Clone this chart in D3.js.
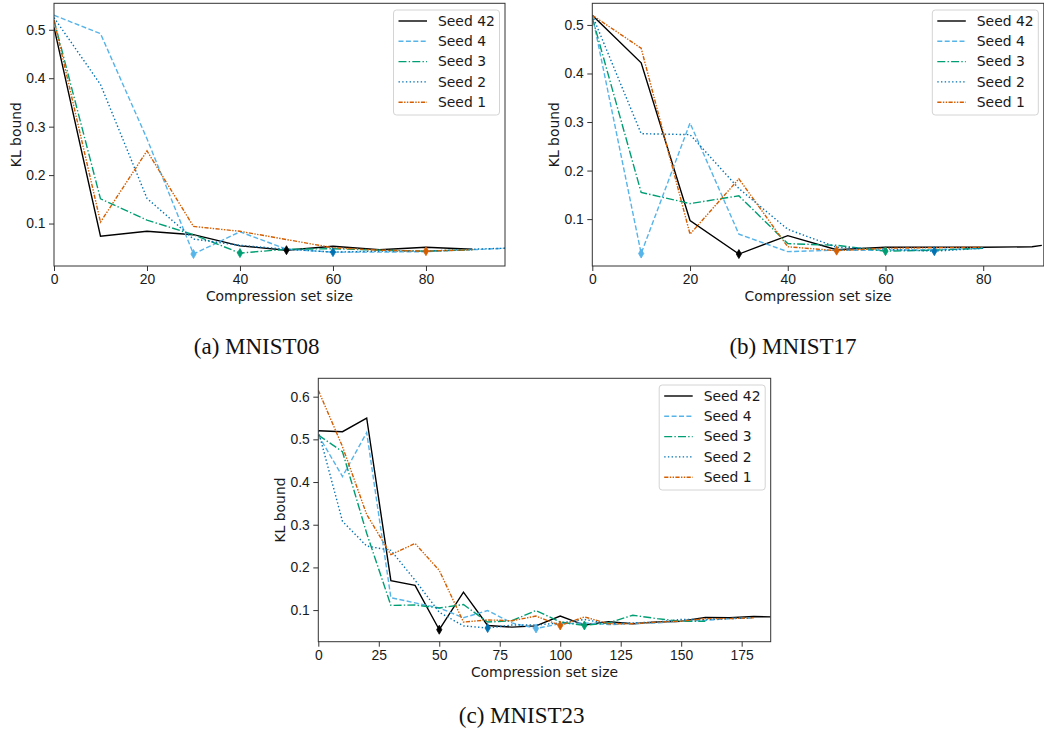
<!DOCTYPE html>
<html>
<head>
<meta charset="utf-8">
<script src="https://cdn.jsdelivr.net/npm/d3@7"></script>
<style>
  body { margin: 0; background: #fff; }
  svg { display: block; font-family: "DejaVu Sans", sans-serif; }
  .tick text { font-size: 13.9px; fill: #1a1a1a; }
  .tick line { stroke: #333; }
  .caption { font-family: "Liberation Serif", "Times New Roman", serif; font-size: 23px; fill: #111; }
</style>
</head>
<body>
<svg id="chart" width="1044" height="734"></svg>
<script>
const seedNames = ["Seed 42", "Seed 4", "Seed 3", "Seed 2", "Seed 1"];
const seedColors = ["#000000", "#56B4E9", "#009E73", "#0072B2", "#D55E00"];
const seedDashes = [null, "5,2.4", "8,2.2,1.4,2.2", "1.4,2.3", "4.2,1.4,1.4,1.4,1.4,1.4"];

// (a) MNIST08
const sizesA = [0, 10, 20, 30, 40, 50, 60, 70, 80, 90, 97];
const a42 = [0.505, 0.074, 0.084, 0.077, 0.054, 0.045, 0.053, 0.046, 0.051, 0.047];
const a4 = [0.53, 0.492, 0.275, 0.037, 0.083, 0.047, 0.041, 0.041, 0.042, 0.046, 0.049];
const a3 = [0.52, 0.151, 0.107, 0.077, 0.039, 0.047, 0.048, 0.045, 0.043, 0.046];
const a2 = [0.525, 0.387, 0.152, 0.068, 0.055, 0.047, 0.041, 0.043, 0.043, 0.047, 0.049];
const a1 = [0.52, 0.103, 0.25, 0.094, 0.084, 0.067, 0.05, 0.045, 0.043, 0.046];
const xTicksA = [0, 20, 40, 60, 80];
const yTicksA = [0.1, 0.2, 0.3, 0.4, 0.5];

// (b) MNIST17
const sizesB = [0, 10, 20, 30, 40, 50, 60, 70, 80, 90, 92];
const b42 = [0.52, 0.422, 0.097, 0.028, 0.066, 0.037, 0.042, 0.042, 0.042, 0.043, 0.046];
const b4 = [0.52, 0.029, 0.298, 0.069, 0.033, 0.036, 0.036, 0.037, 0.040];
const b3 = [0.515, 0.155, 0.132, 0.148, 0.0495, 0.046, 0.034, 0.036, 0.040];
const b2 = [0.52, 0.276, 0.274, 0.163, 0.079, 0.042, 0.038, 0.034, 0.040];
const b1 = [0.52, 0.452, 0.069, 0.183, 0.043, 0.035, 0.040, 0.041, 0.042];
const xTicksB = [0, 20, 40, 60, 80];
const yTicksB = [0.1, 0.2, 0.3, 0.4, 0.5];

// (c) MNIST23
const sizesC = [0, 10, 20, 30, 40, 50, 60, 70, 80, 90, 100, 110, 120, 130, 140, 150, 160, 170, 180, 187];
const c42 = [0.52, 0.518, 0.55, 0.169, 0.158, 0.054, 0.142, 0.064, 0.060, 0.063, 0.086, 0.065, 0.073, 0.068, 0.072, 0.074, 0.083, 0.082, 0.085, 0.084];
const c4 = [0.51, 0.413, 0.516, 0.129, 0.117, 0.105, 0.082, 0.099, 0.07, 0.057, 0.068, 0.07, 0.066, 0.068, 0.07, 0.074, 0.076, 0.08, 0.082];
const c3 = [0.51, 0.471, 0.28, 0.111, 0.112, 0.105, 0.113, 0.072, 0.075, 0.099, 0.072, 0.064, 0.07, 0.088, 0.08, 0.074, 0.074];
const c2 = [0.52, 0.308, 0.25, 0.24, 0.17, 0.095, 0.063, 0.058, 0.065, 0.065, 0.07, 0.078, 0.068, 0.07, 0.072, 0.078, 0.078, 0.08, 0.082];
const c1 = [0.615, 0.483, 0.324, 0.23, 0.256, 0.193, 0.072, 0.077, 0.075, 0.086, 0.064, 0.084, 0.068, 0.068, 0.072, 0.074, 0.08, 0.08, 0.082];
const xTicksC = [0, 25, 50, 75, 100, 125, 150, 175];
const yTicksC = [0.1, 0.2, 0.3, 0.4, 0.5, 0.6];

const panels = [
    { id: "a", sizes: sizesA, series: [a42, a4, a3, a2, a1], xMax: 97, xTicks: xTicksA, yTicks: yTicksA,
      left: 54, top: 3.3, width: 451, height: 262.7, caption: "(a) MNIST08", capX: 256.7, capY: 353.5 },
    { id: "b", sizes: sizesB, series: [b42, b4, b3, b2, b1], xMax: 92.4, xTicks: xTicksB, yTicks: yTicksB,
      left: 592.3, top: 3.3, width: 451.5, height: 262.7, caption: "(b) MNIST17", capX: 793, capY: 353.5 },
    { id: "c", sizes: sizesC, series: [c42, c4, c3, c2, c1], xMax: 187, xTicks: xTicksC, yTicks: yTicksC,
      left: 318.3, top: 378.3, width: 452.4, height: 263.4, caption: "(c) MNIST23", capX: 521.7, capY: 723 }
];

const svg = d3.select("#chart");

function drawPanel(p) {
    const all = p.series.flat();
    const lo = d3.min(all), hi = d3.max(all), pad = (hi - lo) * 0.05;

    const x = d3.scaleLinear().domain([0, p.xMax]).range([p.left, p.left + p.width]);
    const y = d3.scaleLinear().domain([lo - pad, hi + pad]).range([p.top + p.height, p.top]);

    svg.append("clipPath").attr("id", `clip-${p.id}`)
        .append("rect")
        .attr("x", p.left).attr("y", p.top)
        .attr("width", p.width).attr("height", p.height);

    const plot = svg.append("g").attr("clip-path", `url(#clip-${p.id})`);

    const line = d3.line()
        .x((d, i) => x(p.sizes[i]))
        .y(d => y(d));

    p.series.forEach((vals, k) => {
        plot.append("path")
            .datum(vals)
            .attr("d", line)
            .attr("fill", "none")
            .attr("stroke", seedColors[k])
            .attr("stroke-width", 1.4)
            .attr("stroke-dasharray", seedDashes[k])
            .attr("stroke-linejoin", "miter");
    });

    // thin diamond at each seed's minimum
    p.series.forEach((vals, k) => {
        const i = d3.minIndex(vals);
        const cx = x(p.sizes[i]), cy = y(vals[i]);
        plot.append("path")
            .attr("d", `M${cx},${cy - 4.5}L${cx + 2.6},${cy}L${cx},${cy + 4.5}L${cx - 2.6},${cy}Z`)
            .attr("fill", seedColors[k])
            .attr("stroke", seedColors[k])
            .attr("stroke-width", 0.8);
    });

    svg.append("g")
        .attr("transform", `translate(0,${p.top + p.height})`)
        .call(d3.axisBottom(x).tickValues(p.xTicks).tickFormat(d3.format("d"))
            .tickSize(5).tickSizeOuter(0).tickPadding(3))
        .call(g => g.select(".domain").remove());

    svg.append("g")
        .attr("transform", `translate(${p.left},0)`)
        .call(d3.axisLeft(y).tickValues(p.yTicks).tickFormat(d3.format(".1f"))
            .tickSize(5).tickSizeOuter(0).tickPadding(3.5))
        .call(g => g.select(".domain").remove());

    svg.append("rect")
        .attr("x", p.left).attr("y", p.top)
        .attr("width", p.width).attr("height", p.height)
        .attr("fill", "none")
        .attr("stroke", "#333")
        .attr("stroke-width", 1);

    svg.append("text")
        .attr("x", p.left + p.width / 2)
        .attr("y", p.top + p.height + 35)
        .attr("text-anchor", "middle")
        .attr("font-size", 13.9)
        .attr("fill", "#1a1a1a")
        .text("Compression set size");

    svg.append("text")
        .attr("transform", `translate(${p.left - 33.5},${p.top + p.height / 2}) rotate(-90)`)
        .attr("text-anchor", "middle")
        .attr("font-size", 13.9)
        .attr("fill", "#1a1a1a")
        .text("KL bound");

    drawLegend(p);

    svg.append("text")
        .attr("class", "caption")
        .attr("x", p.capX)
        .attr("y", p.capY)
        .attr("text-anchor", "middle")
        .text(p.caption);
}

function drawLegend(p) {
    const w = 106, h = 105;
    const lx = Math.min(p.left + p.width, 1044) - 5.5 - w;
    const ly = p.top + 6.7;
    const g = svg.append("g").attr("transform", `translate(${lx},${ly})`);

    g.append("rect")
        .attr("width", w).attr("height", h)
        .attr("rx", 3)
        .attr("fill", "#fff").attr("fill-opacity", 0.8)
        .attr("stroke", "#d4d4d4");

    seedNames.forEach((name, k) => {
        const ry = 11 + k * 20.3;
        g.append("line")
            .attr("x1", 5).attr("x2", 33.5)
            .attr("y1", ry).attr("y2", ry)
            .attr("stroke", seedColors[k])
            .attr("stroke-width", 1.4)
            .attr("stroke-dasharray", seedDashes[k]);
        g.append("text")
            .attr("x", 44.5).attr("y", ry)
            .attr("dy", "0.35em")
            .attr("font-size", 13.9)
            .attr("fill", "#1a1a1a")
            .text(name);
    });
}

panels.forEach(drawPanel);
</script>
</body>
</html>
